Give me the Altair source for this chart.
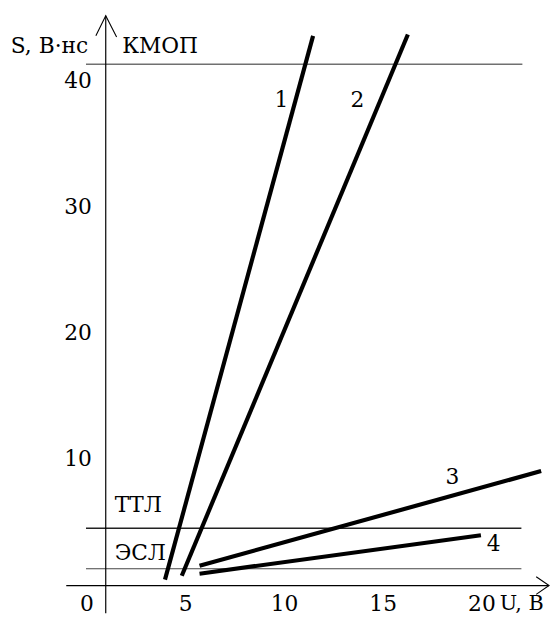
import altair as alt
import pandas as pd

# ---- data ----
curve_ids = ["1", "1", "2", "2", "3", "3", "4", "4"]
curve_u = [3.95, 11.45, 4.8, 16.25, 5.7, 23.0, 5.7, 19.95]
curve_s = [0.47, 43.6, 0.78, 43.7, 1.57, 9.08, 0.94, 3.99]

curve_label_text = ["1", "2", "3", "4"]
curve_label_u = [9.85, 13.7, 18.5, 20.6]
curve_label_s = [38.5, 38.5, 8.6, 3.3]

level_names = ["КМОП", "ТТЛ", "ЭСЛ"]
level_s = [41.35, 4.54, 1.33]
level_u_start = [-0.05, -0.05, -0.05]
level_u_end = [22.05, 22.0, 22.0]
level_label_u = [3.7, 2.6, 2.7]
level_label_s = [42.8, 6.4, 2.6]

x_ticks = [0, 5, 10, 15, 20]
y_ticks = [10, 20, 30, 40]
x_title = "U, В"
y_title = "S, В·нс"

# ---- layout constants ----
X_DOM = [-4.0, 23.4]
Y_DOM = [-2.19, 45.5]
AXIS_U = 0.95
FONT = "DejaVu Serif"
FS = 22

xs = alt.Scale(domain=X_DOM, nice=False, zero=False)
ys = alt.Scale(domain=Y_DOM, nice=False, zero=False)

def X(f):
    return alt.X(f, type="quantitative", scale=xs, axis=None)

def Y(f):
    return alt.Y(f, type="quantitative", scale=ys, axis=None)

curves = pd.DataFrame({"id": curve_ids, "u": curve_u, "s": curve_s})
levels = pd.DataFrame({"name": level_names, "s": level_s,
                       "u0": level_u_start, "u1": level_u_end})
level_labels = pd.DataFrame({"name": level_names, "u": level_label_u, "s": level_label_s})
curve_labels = pd.DataFrame({"t": curve_label_text, "u": curve_label_u, "s": curve_label_s})

axes = pd.DataFrame({
    "u0": [AXIS_U, -1.05], "u1": [AXIS_U, X_DOM[1]],
    "s0": [Y_DOM[0], 0.0], "s1": [45.2, 0.0],
})
arrows = pd.DataFrame({
    "a": ["y", "y", "y", "x", "x", "x"],
    "o": [0, 1, 2, 0, 1, 2],
    "u": [AXIS_U - 0.5, AXIS_U, AXIS_U + 0.55, 22.75, X_DOM[1], 22.75],
    "s": [43.6, 45.2, 43.5, 0.7, 0.0, -0.7],
})
xlab = pd.DataFrame({"t": [str(v) for v in x_ticks], "u": x_ticks, "s": [-1.45] * len(x_ticks)})
ylab = pd.DataFrame({"t": [str(v) for v in y_ticks], "u": [0.25] * len(y_ticks), "s": y_ticks})
titles_left = pd.DataFrame({"t": [x_title], "u": [20.9], "s": [-1.45]})
titles_center = pd.DataFrame({"t": [y_title], "u": [-1.9], "s": [42.8]})

level_layer = alt.Chart(levels).mark_rule().encode(
    x=X("u0"), x2="u1", y=Y("s"),
    color=alt.Color("name:N", scale=alt.Scale(domain=level_names,
                                              range=["#707070", "#222222", "#444444"]), legend=None),
    strokeWidth=alt.StrokeWidth("name:N", scale=alt.Scale(domain=level_names, range=[1.6, 1.2, 1.2]),
                                legend=None),
)

axis_layer = alt.Chart(axes).mark_rule(color="black", strokeWidth=1.2).encode(
    x=X("u0"), x2="u1", y=Y("s0"), y2="s1")

arrow_layer = alt.Chart(arrows).mark_line(color="black", strokeWidth=1.1).encode(
    x=X("u"), y=Y("s"), detail="a:N", order="o:Q")

curve_layer = alt.Chart(curves).mark_line(color="black", strokeWidth=4.2, strokeCap="butt").encode(
    x=X("u"), y=Y("s"), detail="id:N")

def text_layer(df, align, field="t", size=FS):
    return alt.Chart(df).mark_text(font=FONT, fontSize=size, color="black",
                                   align=align, baseline="middle").encode(
        x=X("u"), y=Y("s"), text=f"{field}:N")

chart = alt.layer(
    level_layer,
    axis_layer,
    arrow_layer,
    curve_layer,
    text_layer(level_labels, "center", "name"),
    text_layer(curve_labels, "center"),
    text_layer(xlab, "center"),
    text_layer(ylab, "right"),
    text_layer(titles_left, "left", size=21),
    text_layer(titles_center, "center"),
).properties(width=548, height=609, padding=0).configure_view(stroke=None)

chart.save("out.html", embed_options={"renderer": "svg", "actions": False})
